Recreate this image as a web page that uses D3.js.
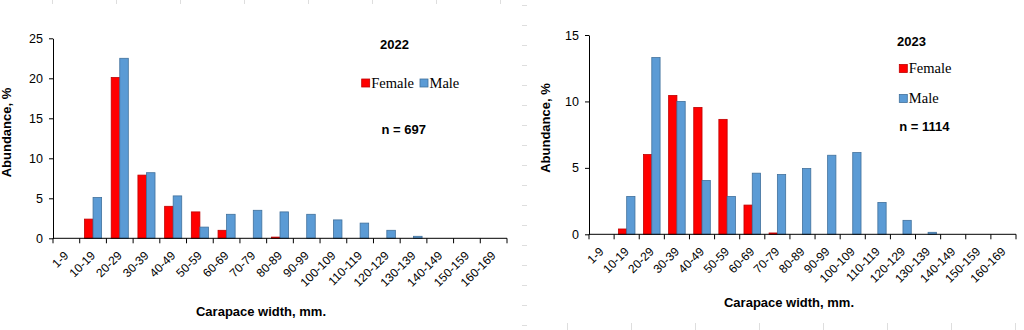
<!DOCTYPE html>
<html>
<head>
<meta charset="utf-8">
<script src="https://cdn.jsdelivr.net/npm/d3@7"></script>
<style>
  body { margin: 0; background: #fff; }
  svg { display: block; }
  .tick text { font-family: Arial, "Liberation Sans", sans-serif; }
</style>
</head>
<body>
<svg width="1024" height="330"></svg>
<script>
// size classes, carapace width in mm
var classes = ["1-9", "10-19", "20-29", "30-39", "40-49", "50-59", "60-69", "70-79",
  "80-89", "90-99", "100-109", "110-119", "120-129", "130-139", "140-149", "150-159", "160-169"];

// abundance, %
var female2022 = [0, 2.4, 20.1, 7.9, 4.0, 3.3, 1.0, 0, 0.15, 0, 0, 0, 0, 0, 0, 0, 0];
var male2022   = [0, 5.1, 22.5, 8.2, 5.3, 1.4, 3.0, 3.5, 3.3, 3.0, 2.3, 1.9, 1.0, 0.25, 0, 0, 0];
var female2023 = [0, 0.4, 6.0, 10.45, 9.55, 8.65, 2.2, 0.1, 0, 0, 0, 0, 0, 0, 0, 0, 0];
var male2023   = [0, 2.85, 13.3, 10.0, 4.05, 2.85, 4.6, 4.5, 4.95, 5.95, 6.15, 2.4, 1.05, 0.15, 0, 0, 0];

var yTicks2022 = [0, 5, 10, 15, 20, 25];
var yTicks2023 = [0, 5, 10, 15];

var svg = d3.select("svg");
var sans = "Arial, 'Liberation Sans', sans-serif";
var serif = "'Times New Roman', 'Liberation Serif', serif";
var red = "#ff0000", blue = "#5b9bd5";

// faint ruler dashes of the page
var ruler = svg.append("g").attr("stroke", "#dedede").attr("stroke-width", 1);
ruler.selectAll(".v").data(d3.range(5, 330, 20)).enter().append("line")
  .attr("x1", 522).attr("x2", 527).attr("y1", function(d) { return d + 0.5; }).attr("y2", function(d) { return d + 0.5; });
ruler.selectAll(".b").data(d3.range(567.5, 1024, 64)).enter().append("line")
  .attr("x1", function(d) { return d; }).attr("x2", function(d) { return d; }).attr("y1", 323).attr("y2", 330);
ruler.selectAll(".t").data(d3.range(52.5, 520, 64)).enter().append("line")
  .attr("x1", function(d) { return d; }).attr("x2", function(d) { return d; }).attr("y1", 0).attr("y2", 4);

function panel(o) {
  var g = svg.append("g");

  var x = d3.scaleBand().domain(classes).range([o.left, o.right]);
  var y = d3.scaleLinear().domain([0, o.ymax]).range([o.bottom, o.top]);
  var bw = x.bandwidth() * o.barFrac;

  // y axis
  var ya = g.append("g")
    .attr("transform", "translate(" + o.left + ",0)")
    .call(d3.axisLeft(y).tickValues(o.yTicks).tickSize(4).tickSizeOuter(0).tickPadding(6));
  ya.selectAll("text").attr("font-size", "12.5px").attr("fill", "#000");
  ya.selectAll("line, path").attr("stroke", "#000");

  // bars
  var bars = g.append("g");
  [[o.female, red, "#c00000", -1], [o.male, blue, "#41719c", 0]].forEach(function(s) {
    bars.selectAll(null).data(s[0]).enter().append("rect")
      .attr("x", function(d, i) { return x(classes[i]) + x.bandwidth() / 2 + s[3] * bw; })
      .attr("y", function(d) { return y(d); })
      .attr("width", bw)
      .attr("height", function(d) { return y(0) - y(d); })
      .attr("fill", s[1])
      .attr("stroke", function(d) { return d > 0 ? s[2] : "none"; })
      .attr("stroke-width", 0.8);
  });

  // x axis with ticks on class boundaries
  var xa = g.append("g").attr("transform", "translate(0," + o.bottom + ")");
  xa.append("line").attr("x1", o.left).attr("x2", o.right).attr("stroke", "#000");
  xa.selectAll(".bt").data(d3.range(classes.length + 1)).enter().append("line")
    .attr("x1", function(i) { return o.left + i * x.step(); })
    .attr("x2", function(i) { return o.left + i * x.step(); })
    .attr("y1", 0).attr("y2", 5).attr("stroke", "#000");
  xa.selectAll(".lab").data(classes).enter().append("text")
    .attr("transform", function(d) {
      return "translate(" + (x(d) + x.bandwidth() / 2 - 3) + ",12) rotate(-45)";
    })
    .attr("text-anchor", "end")
    .attr("dy", "0.7em")
    .attr("font-family", sans).attr("font-size", "12px")
    .text(function(d) { return d; });

  // axis titles
  g.append("text")
    .attr("transform", "translate(" + o.yTitle[0] + "," + o.yTitle[1] + ") rotate(-90)")
    .attr("text-anchor", "middle")
    .attr("font-family", sans).attr("font-weight", "bold").attr("font-size", "13px")
    .text("Abundance, %");
  g.append("text")
    .attr("x", o.xTitle[0]).attr("y", o.xTitle[1])
    .attr("text-anchor", "middle")
    .attr("font-family", sans).attr("font-weight", "bold").attr("font-size", "13px")
    .text("Carapace width, mm.");

  // year, sample size
  g.append("text")
    .attr("x", o.yearPos[0]).attr("y", o.yearPos[1])
    .attr("text-anchor", "middle")
    .attr("font-family", sans).attr("font-weight", "bold").attr("font-size", "13px")
    .text(o.year);
  g.append("text")
    .attr("x", o.nPos[0]).attr("y", o.nPos[1])
    .attr("text-anchor", o.nAnchor)
    .attr("font-family", sans).attr("font-weight", "bold").attr("font-size", "13px")
    .text("n = " + o.n);

  // legend
  var lg = g.append("g");
  o.legend.forEach(function(l) {
    lg.append("rect")
      .attr("x", l.x).attr("y", l.y - 8).attr("width", 8).attr("height", 8)
      .attr("fill", l.c).attr("stroke", l.s).attr("stroke-width", 0.8);
    lg.append("text")
      .attr("x", l.x + 9.5).attr("y", l.y + 0.5)
      .attr("font-family", serif).attr("font-size", "14.5px")
      .text(l.t);
  });
}

panel({
  left: 53, right: 507, top: 38.3, bottom: 238.3, ymax: 25, yTicks: yTicks2022,
  female: female2022, male: male2022, barFrac: 0.32,
  yTitle: [11, 132.5], xTitle: [261, 316],
  year: "2022", yearPos: [394.5, 49.3], n: 697, nPos: [403.8, 134.3], nAnchor: "middle",
  legend: [
    { x: 361.7, y: 87, c: red, s: "#c00000", t: "Female" },
    { x: 420, y: 87, c: blue, s: "#41719c", t: "Male" }
  ]
});

panel({
  left: 589, right: 1016, top: 35, bottom: 234.3, ymax: 15, yTicks: yTicks2023,
  female: female2023, male: male2023, barFrac: 0.33,
  yTitle: [549.5, 128], xTitle: [789, 307.3],
  year: "2023", yearPos: [911.5, 45.7], n: 1114, nPos: [899.3, 131], nAnchor: "start",
  legend: [
    { x: 899.3, y: 72.5, c: red, s: "#c00000", t: "Female" },
    { x: 899.3, y: 102.5, c: blue, s: "#41719c", t: "Male" }
  ]
});
</script>
</body>
</html>
